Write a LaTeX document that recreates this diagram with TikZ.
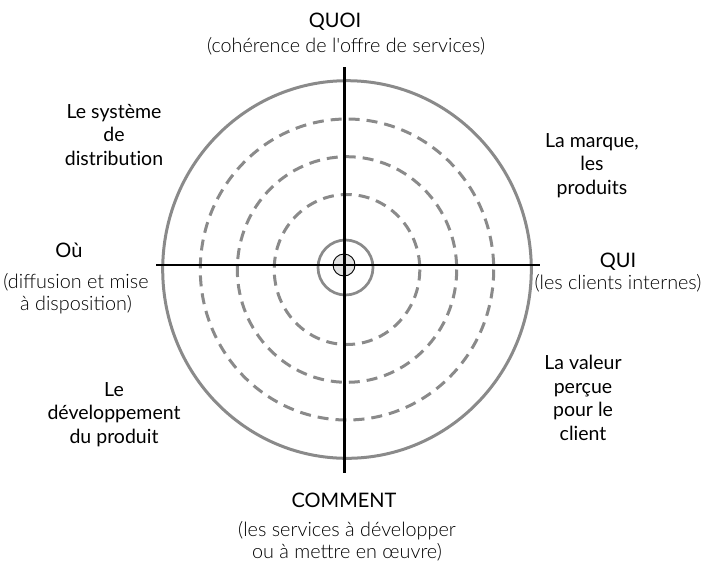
\documentclass[tikz,border=0pt]{standalone}
\usepackage{fontspec}
\setmainfont{Lato}[RawFeature={-liga}]
\newfontfamily\lightfont{Lato Light}
\definecolor{ringgray}{HTML}{8A8A8A}
\definecolor{hubfill}{HTML}{E4E4E4}
\tikzset{
  ring/.style={draw=ringgray, line width=3pt},
  dashring/.style={draw=ringgray, line width=3pt, dash pattern=on 11pt off 7pt},
  head/.style={font=\fontsize{20}{24}\selectfont, inner sep=0pt, anchor=base},
  sub/.style={font=\lightfont\fontsize{19.8}{22}\selectfont, inner sep=0pt, anchor=base, align=center},
  lab/.style={font=\fontsize{19.5}{23.5}\selectfont, inner sep=0pt, anchor=base, align=center},
}
\begin{document}
\begin{tikzpicture}[x=1pt,y=-1pt]
\useasboundingbox (0,0) rectangle (703,565);
% rings
\draw[ring] (347,269.5) ellipse [x radius=184.3, y radius=188.8];
\draw[dashring] (347,269.5) ellipse [x radius=146.7, y radius=150.5];
\draw[dashring] (347,269.5) ellipse [x radius=109.7, y radius=112.8];
\draw[dashring] (347,269.5) ellipse [x radius=72.8, y radius=75];
\draw[ring, line width=2.7pt] (345.5,267.5) circle [radius=27.5];
% axes
\coordinate (vtop) at (344,67);
\coordinate (vbot) at (344,473);
\coordinate (hleft) at (156,265);
\coordinate (hright) at (540,265);
\draw[line width=1.2pt] (hleft) -- (hright);
\draw[line width=3pt] (vtop) -- (vbot);
\node[circle, draw=black, line width=0.9pt, fill=hubfill, minimum size=22pt, inner sep=0pt] (hub) at (344,265) {};
\draw[line width=1.2pt] (hub.west) -- (hub.east);
\draw[line width=3pt] (hub.north) -- (hub.south);
% axis labels
\node[head] (quoi) at (335,27) {QUOI};
\node[sub] (quoisub) at (346,52) {(cohérence de l'offre de services)};
\node[head] (qui) at (618,267) {QUI};
\node[sub] (quisub) at (618,289) {(les clients internes)};
\node[head] (ou) at (69,257) {Où};
\node[sub] (ousub) at (76,310) {(diffusion et mise\\à disposition)};
\node[head] (comment) at (344,507) {COMMENT};
\node[sub] (commentsub) at (347,558) {(les services à développer\\ou à mettre en œuvre)};
% quadrant labels
\node[lab] (sysdist) at (114,165) {Le système\\de\\distribution};
\node[lab] (marque) at (592,194) {La marque,\\les\\produits};
\node[lab] (dev) at (114,443) {Le\\développement\\du produit};
\node[lab] (valeur) at (583,440) {La valeur\\perçue\\pour le\\client};
\end{tikzpicture}
\end{document}
